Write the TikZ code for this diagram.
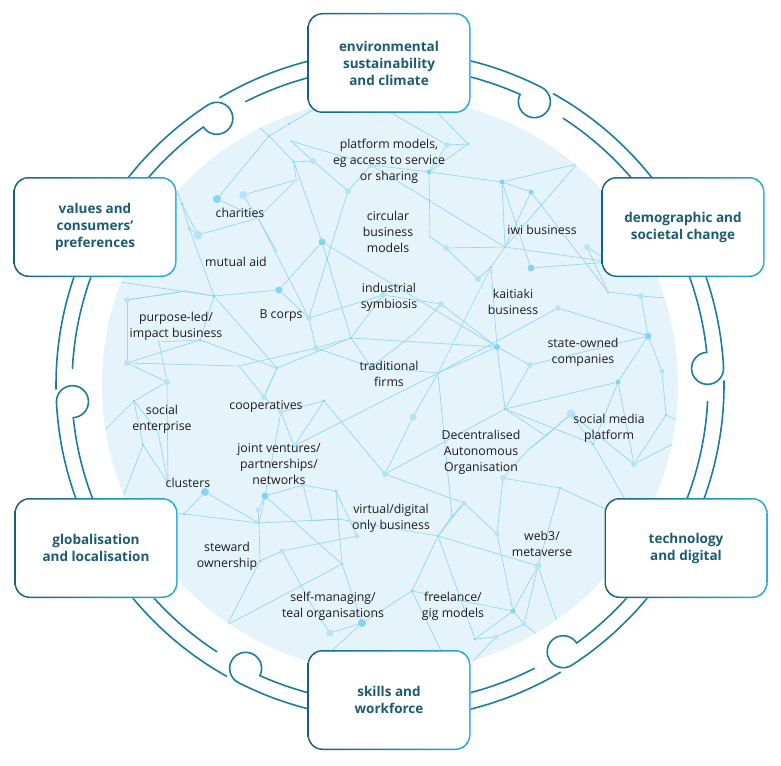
\documentclass[tikz,border=0pt]{standalone}
\usepackage{fontspec}
\setmainfont{Open Sans}
\usepackage{tikz}
\usetikzlibrary{calc}
\definecolor{ringteal}{RGB}{28,124,160}
\definecolor{ringdark}{RGB}{24,96,120}
\definecolor{ringlight}{RGB}{38,172,222}
\definecolor{boxtext}{RGB}{28,92,112}
\definecolor{diskblue}{RGB}{229,243,250}
\definecolor{netline}{RGB}{148,212,238}
\definecolor{netdot}{RGB}{132,212,242}
\definecolor{netpale}{RGB}{182,228,246}
\definecolor{labeltext}{RGB}{28,28,28}
\tikzset{
  theme/.style={rectangle,rounded corners=15pt,minimum width=163pt,minimum height=100pt,
    inner sep=0pt,fill=white,align=center,text=boxtext,font=\fontsize{13.5}{17}\selectfont\bfseries,
    path picture={
      \fill[left color=ringdark,right color=ringlight] (path picture bounding box.south west) rectangle (path picture bounding box.north east);
      \fill[white,rounded corners=13.6pt] ([shift={(1.5pt,1.5pt)}]path picture bounding box.south west) rectangle ([shift={(-1.5pt,-1.5pt)}]path picture bounding box.north east);
    }},
  ring/.style={draw=ringteal,line width=1.6pt,line cap=round},
  link/.style={draw=netline,line width=0.65pt},
  hub/.style={circle,inner sep=0pt,minimum size=#1,fill=netdot},
  hub/.default=3pt,
  lbl/.style={align=center,text=labeltext,font=\fontsize{12.3}{16}\selectfont}
}

\begin{document}
\begin{tikzpicture}[x=1pt,y=-1pt]
    \useasboundingbox (0,0) rectangle (781,765);

    % Disk
    \fill[diskblue] (390,385) circle[radius=288pt];

    % Network
    \begin{scope}
    \clip (390,385) circle[radius=288pt];
    \foreach \n/\x/\y in {v1/330/100, v2/175/185, v3/120/282, v4/610/262, v5/640/525,
        v6/120/505, v7/420/95, v8/360/95, v9/700/430, v10/570/660, v11/300/680,
        v12/95/440, v13/240/110, v14/690/300, v15/455/680}
      \coordinate (\n) at (\x,\y);
    \foreach \n/\x/\y/\s/\c in {a1/289/124/2.8pt/netdot, a2/269/136/3.2pt/netdot, a3/291/141/3pt/netpale,
        a4/313/161/6pt/netpale, a5/294/162/2.8pt/netdot, a6/296/180/3.2pt/netpale, a7/348/191/6pt/netpale,
        a8/217/199/8pt/netdot, a9/243/195/8pt/netpale, a10/182/204/2.8pt/netdot, a11/189/228/2.8pt/netdot,
        a12/198/235/9pt/netpale, a13/322/242/7pt/netdot, a14/276/250/3.2pt/netpale, a15/258/218/2pt/netpale,
        a16/186/291/3.2pt/netpale, a17/214/296/3.6pt/netdot, a18/279/290/7pt/netdot, a19/127/300/6pt/netpale,
        a20/309/318/6pt/netpale, a21/351/338/3.2pt/netdot, a22/316/348/6pt/netpale, a23/200/340/3.2pt/netdot,
        a24/159/342/3.2pt/netpale, a25/127/363/6pt/netpale, a26/239/366/3.2pt/netpale, a27/277/368/3.2pt/netdot,
        a28/167/382/6pt/netpale, a29/371/367/6pt/netpale, a30/383/295/6pt/netpale, a31/371/165/6pt/netpale,
        b1/447/145/6pt/netpale, b2/468/144/2.8pt/netdot, b3/429/172/5pt/netdot, b4/502/182/5pt/netdot,
        b5/531/192/5pt/netdot, b6/505/247/2.8pt/netdot, b7/531/268/7pt/netdot, b8/491/267/2.8pt/netdot,
        b9/446/248/6pt/netpale, b10/430/237/2.8pt/netpale, b11/478/279/6pt/netpale, b12/441/304/6pt/netpale,
        b13/415/333/3.2pt/netpale, b14/397/347/3.2pt/netpale, b15/497/347/6pt/netdot, b16/438/373/3.2pt/netdot,
        b17/530/365/6pt/netpale, b18/587/247/6pt/netpale, b19/608/292/2.8pt/netdot, b20/558/308/5pt/netpale,
        b21/641/296/6pt/netpale, b22/648/336/7pt/netdot, b23/662/371/5pt/netpale, b24/618/382/5pt/netdot,
        b25/577/164/2pt/netpale,
        c1/134/401/3pt/netdot, c2/158/432/3pt/netpale, c3/143/445/3pt/netdot, c4/205/492/8pt/netdot,
        c5/184/514/3pt/netdot, c6/227/625/2.8pt/netdot, c7/264/397/6pt/netpale, c8/324/401/3.2pt/netdot,
        c9/281/412/5pt/netpale, c10/294/446/3pt/netdot, c11/265/496/7pt/netdot, c12/303/485/5pt/netpale,
        c13/259/523/3.2pt/netdot, c14/258/510/5pt/netpale, c15/336/491/3pt/netdot, c16/338/519/3.4pt/netdot,
        c17/312/521/3pt/netpale, c18/357/536/5pt/netpale, c19/282/551/5pt/netpale, c20/260/561/3pt/netdot,
        c21/342/564/3pt/netdot, c22/385/474/6pt/netpale, c23/362/623/8pt/netdot, c24/330/633/7pt/netpale,
        c25/314/609/3pt/netpale, c26/168/483/2pt/netpale,
        e1/413/417/7pt/netpale, e2/505/409/3.2pt/netdot, e3/528/450/3pt/netpale, e4/503/478/6pt/netpale,
        e5/464/503/5pt/netpale, e6/452/516/3.2pt/netdot, e7/438/536/3.2pt/netdot, e8/497/534/5pt/netpale,
        e9/412/591/3.6pt/netdot, e10/513/611/5pt/netdot, e11/524/624/5pt/netpale, e12/496/637/5pt/netpale,
        e13/475/639/3pt/netdot, e14/571/414/9pt/netpale, e15/546/436/3pt/netpale, e16/593/444/3.4pt/netdot,
        e17/634/464/6pt/netpale, e18/560/488/3.4pt/netdot, e19/666/415/3pt/netdot, e20/538/566/7pt/netpale}
      \node[hub=\s,fill=\c] (\n) at (\x,\y) {};
    \foreach \a/\b in {a8/a2, a2/a1, a1/v1, a2/a5, a5/a13, a13/a18, a13/a21, a13/b15, a18/a17,
        a17/a11, a11/a10, a10/v2, a11/a12, a17/v3, a17/a27, a19/a25, a25/a23, a23/a17, a23/a27,
        a27/a21, a21/a22, a22/a26, a25/a26, a15/a6, a15/a20, a15/a12, a8/a15, a3/a31, a3/a4,
        a4/a7, a9/a15, a6/a5, a7/a20, a20/a30, a30/b12, a14/a15, a31/b6, a31/b3, a24/a28,
        a24/a23, a28/c26, a29/a21, a29/b16, a16/a17, a16/a19, a2/v13,
        a21/b15, a18/a20, a20/a22, a22/a29, a30/a21, a7/a31, a4/a5, a9/a6, a10/a12,
        a19/a16, a25/a28, a28/c1, a26/c7, a27/c7,
        b3/b2, b2/v7, b3/b1, b3/b4, b4/b5, b4/b6, b4/b7, b5/b6, b5/b19, b6/b8, b8/b15, b8/b16,
        b7/v4, b6/v4, b25/b4, b25/b6, b9/b11, b10/b9, b12/b13, b13/b14, b15/b16, b15/b17,
        b18/b19, b20/b16, b21/b22, b22/b24, b22/b23, b22/b17, b21/v14, b18/v4, b1/v8, b14/a29,
        b12/b15, b11/b8, b17/e2, b20/b22, b19/b21, b1/b2, b10/b3, b9/b6,
        c1/c2, c1/v12, c3/c1, c3/v6, c26/c2, c4/c5, c4/c13, c5/c13, c5/v6, c13/c16, c16/c15,
        c16/c21, c15/c18, c11/c21, c11/c13, c11/c9, c10/b16, c10/c8, c7/c9, c10/c9, c14/c13,
        c19/c18, c19/c25, c25/c24, c23/c24, c23/e9, c21/c6, c13/c20, c6/c20, c12/c11, c7/a27,
        c17/c16, c23/v11, c6/v11, c12/c15, c8/c22, c9/c8, c3/c26, c14/c11, c17/c12, c19/c20,
        c23/c21,
        e2/e16, e2/b15, e2/c22, e2/b24, e4/e3, e4/e8, e4/e18, e18/v5, e6/e5, e6/e7, e6/b16,
        e7/e9, e7/e20, e7/c16, e7/e13, e9/e10, e10/e13, e10/e11, e11/e12, e10/e20, e1/c22,
        e14/e16, e16/v5, e15/e14, e15/e2, e17/e19, e17/b24, e19/b23, e20/v10, e11/v10,
        e12/v15, e9/v15, e3/e14, e5/e8, e19/v9, e16/b24, e14/e17, e17/v9, e3/e15, e8/e10,
        e5/e7, e1/b16, c22/e5, e12/e13, e20/e11, e18/e20}
      \draw[link] (\a) -- (\b);
    \end{scope}

    % Network labels
    \node[lbl] (platform) at (389,161) {platform models,\\eg access to service\\or sharing};
    \node[lbl] (circular) at (388,232) {circular\\business\\models};
    \node[lbl] (charities) at (240,213) {charities};
    \node[lbl] (iwi) at (542,230) {iwi business};
    \node[lbl] (mutual) at (236,262) {mutual aid};
    \node[lbl] (industrial) at (389,297) {industrial\\symbiosis};
    \node[lbl] (kaitiaki) at (513,302) {kaitiaki\\business};
    \node[lbl] (bcorps) at (281,316) {B corps};
    \node[lbl] (purpose) at (176,326) {purpose-led/\\impact business};
    \node[lbl] (stateowned) at (583,352) {state-owned\\companies};
    \node[lbl] (traditional) at (389,374) {traditional\\firms};
    \node[lbl] (socialent) at (162,419) {social\\enterprise};
    \node[lbl] (coops) at (266,406) {cooperatives};
    \node[lbl] (socialmedia) at (609,428) {social media\\platform};
    \node[lbl] (dao) at (481,452) {Decentralised\\Autonomous\\Organisation};
    \node[lbl] (joint) at (279,464) {joint ventures/\\partnerships/\\networks};
    \node[lbl] (clusters) at (188,483) {clusters};
    \node[lbl] (virtual) at (391,518) {virtual/digital\\only business};
    \node[lbl] (web3) at (542,544) {web3/\\metaverse};
    \node[lbl] (steward) at (227,556) {steward\\ownership};
    \node[lbl] (selfman) at (333,606) {self-managing/\\teal organisations};
    \node[lbl] (freelance) at (453,606) {freelance/\\gig models};

    % Ring
    \begin{scope}[shift={(390pt,-385pt)},y=1pt]
    \foreach \b in {3,63,123,183,243,303}{
      \draw[ring] ({\b+30}:334) arc[start angle=\b+30,end angle=\b,radius=334]
        arc[start angle=\b,end angle=\b-270,radius=16]
        arc[start angle=\b+2.88,end angle=\b+30,radius=318];
      \draw[ring] ({\b-2.3}:334) arc[start angle=\b-2.3,end angle=\b-33,radius=334];
      \draw[ring] ({\b-6}:318) arc[start angle=\b-6,end angle=\b-33,radius=318];
    }
    \end{scope}

    % Themes
    \node[theme] (env) at (389,63) {environmental\\sustainability\\and climate};
    \node[theme] (values) at (95,227) {values and\\consumers’\\preferences};
    \node[theme] (demog) at (683,227) {demographic and\\societal change};
    \node[theme] (glob) at (96,548) {globalisation\\and localisation};
    \node[theme] (tech) at (686,548) {technology\\and digital};
    \node[theme] (skills) at (389,700) {skills and\\workforce};
\end{tikzpicture}
\end{document}
